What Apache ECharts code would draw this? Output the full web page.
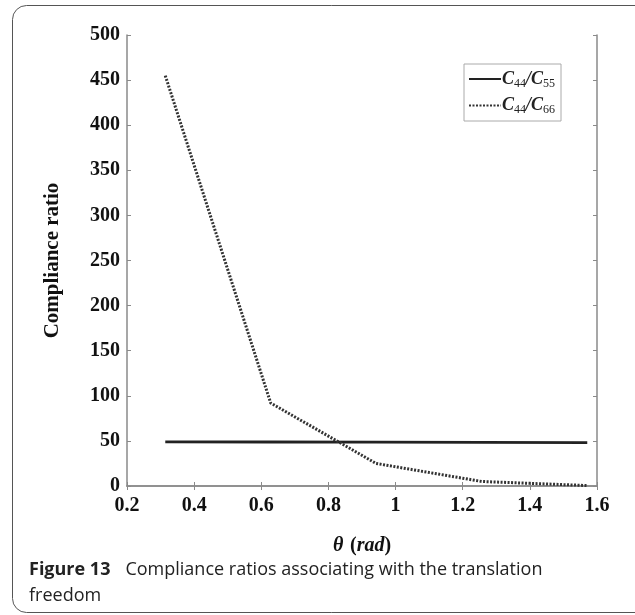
<!DOCTYPE html>
<html>
<head>
<meta charset="utf-8">
<script src="https://cdn.jsdelivr.net/npm/echarts@6/dist/echarts.min.js"></script>
<style>
  html, body { margin: 0; padding: 0; background: #fff; }
  #main { width: 635px; height: 615px; }
</style>
</head>
<body>
<div id="main"></div>
<script>
// angle values (rad)
const thetas = [0.314, 0.628, 0.942, 1.257, 1.571];
// C44/C55
const ratio55 = [49, 48.8, 48.6, 48.4, 48];
// C44/C66
const ratio66 = [455, 92, 25, 5, 0.5];
const xTicks = [0.2, 0.4, 0.6, 0.8, 1, 1.2, 1.4, 1.6];
const yTicks = [0, 50, 100, 150, 200, 250, 300, 350, 400, 450, 500];

const serif = 'Liberation Serif';
const axisGrey = '#8a8a8a';

const chart = echarts.init(document.getElementById('main'));

function toPairs(xs, ys) {
  return xs.map((x, i) => [x, ys[i]]);
}

// shared axis look
const baseAxis = {
  type: 'value',
  axisLine: { show: true, lineStyle: { color: axisGrey, width: 1.5 } },
  axisTick: { show: true, inside: true, length: 4, lineStyle: { color: axisGrey } },
  splitLine: { show: false }
};

const option = {
  animation: false,
  grid: { left: 127, right: 38, top: 35, bottom: 129 },
  legend: {
    left: 464,
    top: 64,
    orient: 'vertical',
    itemWidth: 32,
    itemHeight: 12,
    itemGap: 7,
    padding: [6, 6, 5, 4],
    borderColor: '#aaa',
    borderWidth: 1,
    itemStyle: { opacity: 0 },
    data: ['C44/C55', 'C44/C66'],
    formatter: name => {
      const p = name.replace('C', '').split('/C');
      return '{i|C}{s|' + p[0] + '}{i|/C}{s|' + p[1] + '}';
    },
    textStyle: {
      padding: [0, 0, 0, -4],
      rich: {
        i: { fontFamily: serif, fontStyle: 'italic', fontWeight: 'bold', fontSize: 18, color: '#222' },
        s: { fontFamily: serif, fontSize: 12, color: '#222', verticalAlign: 'bottom', padding: [9, 0, 0, 0] }
      }
    }
  },
  xAxis: [
    Object.assign({}, baseAxis, {
      min: 0.2, max: 1.6, interval: 0.2,
      name: '{t|θ}  {r|(}{t|rad}{r|)}',
      nameLocation: 'middle',
      nameGap: 50,
      nameTextStyle: {
        rich: {
          t: { fontFamily: serif, fontStyle: 'italic', fontWeight: 'bold', fontSize: 20, color: '#111' },
          r: { fontFamily: serif, fontWeight: 'bold', fontSize: 20, color: '#111' }
        }
      },
      axisLabel: {
        margin: 10,
        fontFamily: serif, fontWeight: 'bold', fontSize: 20, color: '#111',
        formatter: v => String(Math.round(v * 10) / 10)
      }
    }),
    Object.assign({}, baseAxis, {
      position: 'top', min: 0.2, max: 1.6, interval: 0.2,
      axisLabel: { show: false }
    })
  ],
  yAxis: [
    Object.assign({}, baseAxis, {
      min: 0, max: 500, interval: 50,
      name: 'Compliance ratio',
      nameLocation: 'middle',
      nameGap: 64,
      nameTextStyle: { fontFamily: serif, fontWeight: 'bold', fontSize: 21, color: '#111' },
      axisLabel: {
        margin: 7,
        fontFamily: serif, fontWeight: 'bold', fontSize: 20, color: '#111'
      }
    }),
    Object.assign({}, baseAxis, {
      position: 'right', min: 0, max: 500, interval: 50,
      axisLabel: { show: false }
    })
  ],
  series: [
    {
      name: 'C44/C55',
      type: 'line',
      data: toPairs(thetas, ratio55),
      showSymbol: false,
      symbol: 'none',
      lineStyle: { color: '#222', width: 2.8, type: 'solid' },
      itemStyle: { color: '#222' }
    },
    {
      name: 'C44/C66',
      type: 'line',
      data: toPairs(thetas, ratio66),
      showSymbol: false,
      symbol: 'none',
      lineStyle: { color: '#333', width: 3, type: [2, 1.5] },
      itemStyle: { color: '#333' }
    }
  ],
  graphic: [
    {
      type: 'rect',
      shape: { x: 12.5, y: 5.5, width: 640, height: 607, r: 14 },
      style: { fill: 'none', stroke: '#555', lineWidth: 1 },
      silent: true
    },
    {
      type: 'text',
      left: 29,
      top: 557,
      style: {
        text: '{b|Figure 13}{n|Compliance ratios associating with the translation}\n{n2|freedom}',
        lineHeight: 26,
        rich: {
          b: { fontFamily: 'Open Sans', fontWeight: 'bold', fontSize: 18, fill: '#222', lineHeight: 26 },
          n: { fontFamily: 'Open Sans', fontSize: 18, fill: '#222', lineHeight: 26, padding: [0, 0, 0, 15] },
          n2: { fontFamily: 'Open Sans', fontSize: 18, fill: '#222', lineHeight: 26 }
        }
      }
    }
  ]
};

chart.setOption(option);
</script>
</body>
</html>
